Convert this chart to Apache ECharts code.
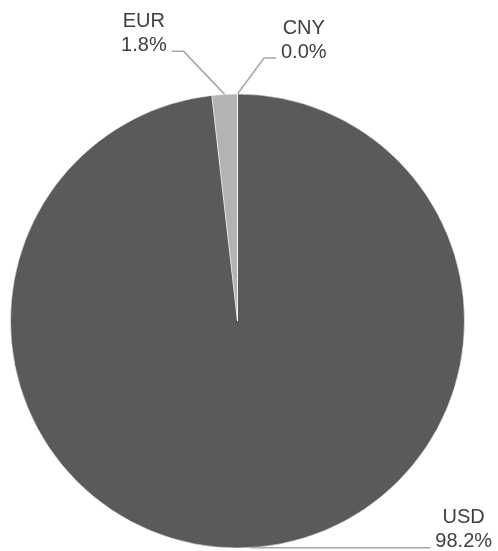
<!DOCTYPE html>
<html>
<head>
<meta charset="utf-8">
<script src="https://cdn.jsdelivr.net/npm/echarts@6/dist/echarts.min.js"></script>
<style>
  html, body { margin: 0; padding: 0; background: #ffffff; }
  #chart { width: 498px; height: 551px; }
</style>
</head>
<body>
<div id="chart"></div>
<script>
// Currency shares, in percent
const currencies = ['USD', 'EUR', 'CNY'];
const shares = [98.2, 1.8, 0.0];

// Slice colours
const sliceColors = { USD: '#5a5a5a', EUR: '#b3b3b3', CNY: '#8c8c8c' };

// Leader-line shape per label: bend offset from the slice edge, then a horizontal run
const leaderShapes = {
  USD: { bend: [0, 0], run: 180 },
  EUR: { bend: [-41, -43], run: -12 },
  CNY: { bend: [26.5, -36], run: 12 }
};

const chart = echarts.init(document.getElementById('chart'), null, { renderer: 'canvas' });

const option = {
  animation: false,
  backgroundColor: '#ffffff',
  series: [{
    type: 'pie',
    center: [237.5, 321],
    radius: 227,
    startAngle: 90,
    clockwise: true,
    avoidLabelOverlap: false,
    minShowLabelAngle: 0,
    itemStyle: { borderColor: '#ffffff', borderWidth: 0.5 },
    label: {
      show: true,
      position: 'outside',
      color: '#404040',
      fontFamily: '"Liberation Sans", Arial, sans-serif',
      fontSize: 20,
      lineHeight: 24,
      formatter: p => p.name + '\n' + p.value.toFixed(1) + '%'
    },
    labelLine: {
      show: true,
      length: 20,
      length2: 20,
      lineStyle: { color: '#a6a6a6', width: 1.5 }
    },
    labelLayout: function (params) {
      const name = currencies[params.dataIndex];
      const shape = leaderShapes[name];
      const p0 = params.labelLinePoints[0];
      const p1 = [p0[0] + shape.bend[0], p0[1] + shape.bend[1]];
      const p2 = [p1[0] + shape.run, p1[1]];
      const dir = shape.run >= 0 ? 1 : -1;
      const halfW = params.labelRect.width / 2;
      return {
        x: p2[0] + dir * (5 + halfW),
        y: p2[1] - 18,
        align: 'center',
        verticalAlign: 'middle',
        labelLinePoints: [p0, p1, p2]
      };
    },
    data: currencies.map((c, i) => ({
      name: c,
      value: shares[i],
      itemStyle: { color: sliceColors[c] }
    }))
  }]
};

chart.setOption(option);
</script>
</body>
</html>
